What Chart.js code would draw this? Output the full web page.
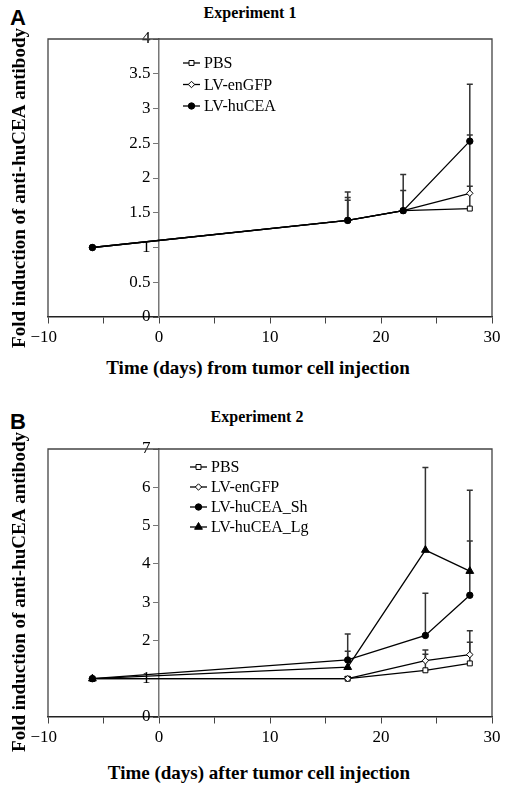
<!DOCTYPE html>
<html>
<head>
<meta charset="utf-8">
<script src="https://cdn.jsdelivr.net/npm/chart.js@4/dist/chart.umd.min.js"></script>
<style>
body { margin: 0; background: #fff; width: 506px; height: 787px; position: relative; overflow: hidden; font-family: "Liberation Serif", "Times New Roman", serif; color: #000; }
canvas { position: absolute; left: 0; }
.t { position: absolute; white-space: nowrap; line-height: 1; font-weight: bold; transform: translate(-50%, -50%); }
.panel { font-family: "Liberation Sans", Arial, sans-serif; font-size: 22px; }
.ctitle { font-size: 16px; }
.xtitle { font-size: 19px; }
</style>
</head>
<body>
<div class="t panel" style="left:18px;top:18px">A</div>
<div class="t ctitle" style="left:250px;top:13px">Experiment 1</div>
<div class="t xtitle" style="left:258px;top:367px">Time (days) from tumor cell injection</div>
<canvas id="chartA" width="506" height="360" style="top:0"></canvas>

<div class="t panel" style="left:18px;top:422px">B</div>
<div class="t ctitle" style="left:257px;top:417px">Experiment 2</div>
<div class="t xtitle" style="left:259px;top:772px">Time (days) after tumor cell injection</div>
<canvas id="chartB" width="506" height="387" style="top:400px"></canvas>

<script>
// Experiment 1
const daysA = [-6, 17, 22, 28];
const pbsA = [1, 1.39, 1.53, 1.56];
const gfpA = [1, 1.39, 1.53, 1.78];
const ceaA = [1, 1.39, 1.53, 2.53];
const pbsErrA = [0, 0.29, 0, 0.32];
const gfpErrA = [0, 0.33, 0.29, 0.84];
const ceaErrA = [0, 0.41, 0.52, 0.82];

// Experiment 2
const daysB = [-6, 17, 24, 28];
const pbsB = [1, 1.0, 1.22, 1.4];
const gfpB = [1, 1.0, 1.47, 1.63];
const shB = [1, 1.49, 2.13, 3.18];
const lgB = [1, 1.3, 4.36, 3.81];
const pbsErrB = [0, 0.05, 0.42, 0.55];
const gfpErrB = [0, 0.05, 0.28, 0.62];
const shErrB = [0, 0.68, 1.1, 1.42];
const lgErrB = [0, 0.42, 2.16, 2.11];

// ticks
const xTicks = [-10, -5, 0, 5, 10, 15, 20, 25, 30];
const yTicksA = [0, 0.5, 1, 1.5, 2, 2.5, 3, 3.5, 4];
const yTicksB = [0, 1, 2, 3, 4, 5, 6, 7];

const yTitle = 'Fold induction of anti-huCEA antibody';
const serif = 'Liberation Serif';

function pts(xs, ys) {
  return xs.map((x, i) => ({ x: x, y: ys[i] }));
}

function ds(label, xs, ys, errs, style, radius, fill, i) {
  return {
    label: label,
    data: pts(xs, ys),
    errs: errs,
    order: -i, // later series on top
    borderColor: '#000',
    borderWidth: 1.3,
    tension: 0,
    pointStyle: style,
    pointRadius: radius,
    pointBackgroundColor: fill,
    pointBorderColor: '#000',
    pointBorderWidth: 1
  };
}

// frame + error bars under the lines
const underPlugin = {
  id: 'under',
  beforeDatasetsDraw(chart) {
    const ctx = chart.ctx;
    const a = chart.chartArea;
    ctx.save();
    ctx.strokeStyle = '#444';
    ctx.lineWidth = 1.3;
    ctx.beginPath();
    ctx.moveTo(a.left, a.bottom);
    ctx.lineTo(a.left, a.top);
    ctx.lineTo(a.right, a.top);
    ctx.lineTo(a.right, a.bottom);
    ctx.stroke();

    const xs = chart.scales.x, ys = chart.scales.y;
    ctx.strokeStyle = '#333';
    ctx.lineWidth = 1.5;
    chart.data.datasets.forEach(d => {
      d.data.forEach((p, i) => {
        const e = d.errs[i];
        if (!e) return;
        const px = xs.getPixelForValue(p.x);
        const y0 = ys.getPixelForValue(p.y);
        const y1 = ys.getPixelForValue(p.y + e);
        ctx.beginPath();
        ctx.moveTo(px, y0);
        ctx.lineTo(px, y1);
        ctx.moveTo(px - 3, y1);
        ctx.lineTo(px + 3, y1);
        ctx.stroke();
      });
    });
    ctx.restore();
  }
};

// legend inside the plot + rotated y title
const keyPlugin = {
  id: 'key',
  afterDraw(chart, args, opts) {
    const ctx = chart.ctx;
    ctx.save();
    ctx.font = '16px "' + serif + '"';
    ctx.textBaseline = 'middle';
    chart.data.datasets.forEach((d, i) => {
      const y = opts.y + i * opts.dy;
      ctx.strokeStyle = '#000';
      ctx.lineWidth = 1.3;
      ctx.beginPath();
      ctx.moveTo(opts.x, y);
      ctx.lineTo(opts.x + 17, y);
      ctx.stroke();
      ctx.fillStyle = d.pointBackgroundColor;
      ctx.lineWidth = 1;
      Chart.helpers.drawPoint(ctx, { pointStyle: d.pointStyle, radius: d.pointRadius, rotation: 0, borderWidth: 1 }, opts.x + 8.5, y);
      ctx.fillStyle = '#000';
      ctx.fillText(d.label, opts.x + 21, y + 1);
    });

    ctx.translate(opts.tx, opts.ty);
    ctx.rotate(-Math.PI / 2);
    ctx.font = 'bold 19px "' + serif + '"';
    ctx.textAlign = 'center';
    ctx.fillText(yTitle, 0, 0);
    ctx.restore();
  }
};

function makeChart(id, datasets, yMax, yTicks, top, bottom, key) {
  return new Chart(document.getElementById(id), {
    type: 'line',
    data: { datasets: datasets },
    options: {
      responsive: false,
      animation: false,
      layout: { padding: { left: 48, right: 14, top: top, bottom: bottom } },
      plugins: {
        legend: { display: false },
        tooltip: { enabled: false },
        key: key
      },
      scales: {
        x: {
          type: 'linear',
          min: -10,
          max: 30,
          position: { y: 0 },
          afterBuildTicks: s => { s.ticks = xTicks.map(v => ({ value: v })); },
          ticks: {
            autoSkip: false,
            maxRotation: 0,
            padding: 4,
            color: '#000',
            font: { family: serif, size: 17 },
            callback: v => v % 10 !== 0 ? '' : (v < 0 ? '\u2212' + Math.abs(v) + '\u2002' : String(v))
          },
          grid: { drawOnChartArea: false, tickLength: 6, color: '#444' },
          border: { color: '#222', width: 1.5 }
        },
        y: {
          min: 0,
          max: yMax,
          position: { x: 0 },
          afterBuildTicks: s => { s.ticks = yTicks.map(v => ({ value: v })); },
          ticks: {
            color: '#000',
            font: { family: serif, size: 17 },
            callback: v => String(v) + '\u2002'
          },
          grid: { drawOnChartArea: false, tickLength: 5, color: '#777' },
          border: { color: '#777', width: 1.5 }
        }
      }
    },
    plugins: [underPlugin, keyPlugin]
  });
}

makeChart('chartA', [
  ds('PBS', daysA, pbsA, pbsErrA, 'rect', 3.5, '#fff', 0),
  ds('LV-enGFP', daysA, gfpA, gfpErrA, 'rectRot', 3.2, '#fff', 1),
  ds('LV-huCEA', daysA, ceaA, ceaErrA, 'circle', 3.2, '#000', 2)
], 4, yTicksA, 39, 43, { x: 183, y: 63, dy: 21.5, tx: 20, ty: 188 });

makeChart('chartB', [
  ds('PBS', daysB, pbsB, pbsErrB, 'rect', 3.5, '#fff', 0),
  ds('LV-enGFP', daysB, gfpB, gfpErrB, 'rectRot', 3.2, '#fff', 1),
  ds('LV-huCEA_Sh', daysB, shB, shErrB, 'circle', 3.2, '#000', 2),
  ds('LV-huCEA_Lg', daysB, lgB, lgErrB, 'triangle', 4.5, '#000', 3)
], 7, yTicksB, 49, 70, { x: 190, y: 67, dy: 20, tx: 20, ty: 192 });
</script>
</body>
</html>
